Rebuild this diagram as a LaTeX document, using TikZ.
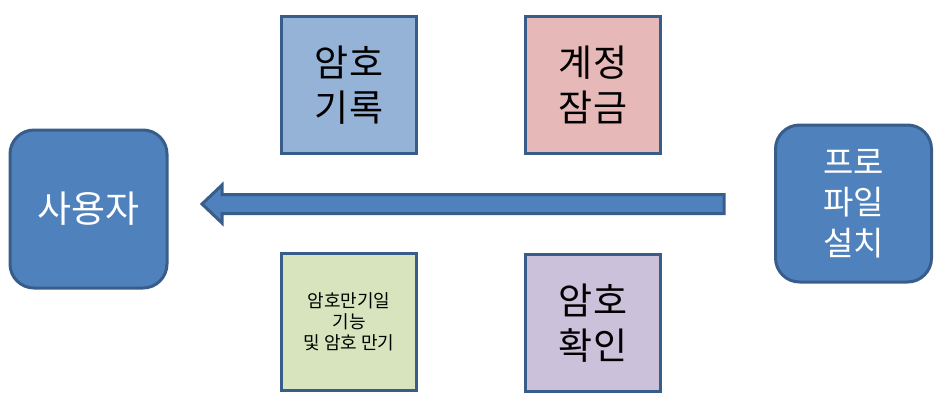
\documentclass[tikz,border=0pt]{standalone}
\usepackage{fontspec}
\setmainfont{Noto Sans CJK KR}
\definecolor{bluefill}{HTML}{4F81BD}
\definecolor{blueline}{HTML}{385D8A}
\definecolor{fillA}{HTML}{95B3D7}
\definecolor{fillB}{HTML}{E6B9B8}
\definecolor{fillC}{HTML}{D7E4BD}
\definecolor{fillD}{HTML}{CCC1DA}
\tikzset{
  actor/.style={draw=blueline, line width=3pt, fill=bluefill, rounded corners=24pt,
    minimum width=156pt, minimum height=156pt, text=white, align=center, inner sep=0pt},
  feature/.style={draw=blueline, line width=3pt, minimum width=135pt, minimum height=137pt,
    align=center, inner sep=0pt, text=black},
  bigtext/.style={font=\fontsize{37}{45}\selectfont},
}
\begin{document}
\begin{tikzpicture}[x=1pt,y=-1pt]
\useasboundingbox (0,0) rectangle (945,408);
\node[actor, minimum width=157pt, minimum height=158pt, font=\fontsize{37}{45}\selectfont] (user) at (88.5,209) {사용자};
\node[actor, minimum width=156pt, minimum height=157pt, font=\fontsize{33}{40.5}\selectfont] (profile) at (853.5,203.5) {프로\\파일\\설치};
\node[feature, fill=fillA, bigtext] (rec) at (349,85) {암호\\기록};
\node[feature, fill=fillB, bigtext] (lock) at (593,85) {계정\\잠금};
\node[feature, fill=fillC, font=\fontsize{18}{21}\selectfont] (exp) at (349,322) {암호만기일\\기능\\및 암호 만기};
\node[feature, fill=fillD, bigtext] (chk) at (593,323) {암호\\확인};
\coordinate (tail) at (724,204);
\coordinate (tip) at (202,204);
\draw[draw=blueline, fill=bluefill, line width=3pt, line join=miter]
  (tip) -- (222,185) -- (222,194.5) -- (tail |- 0,194.5) -- (tail |- 0,213.5) -- (222,213.5) -- (222,223) -- cycle;
\end{tikzpicture}
\end{document}
